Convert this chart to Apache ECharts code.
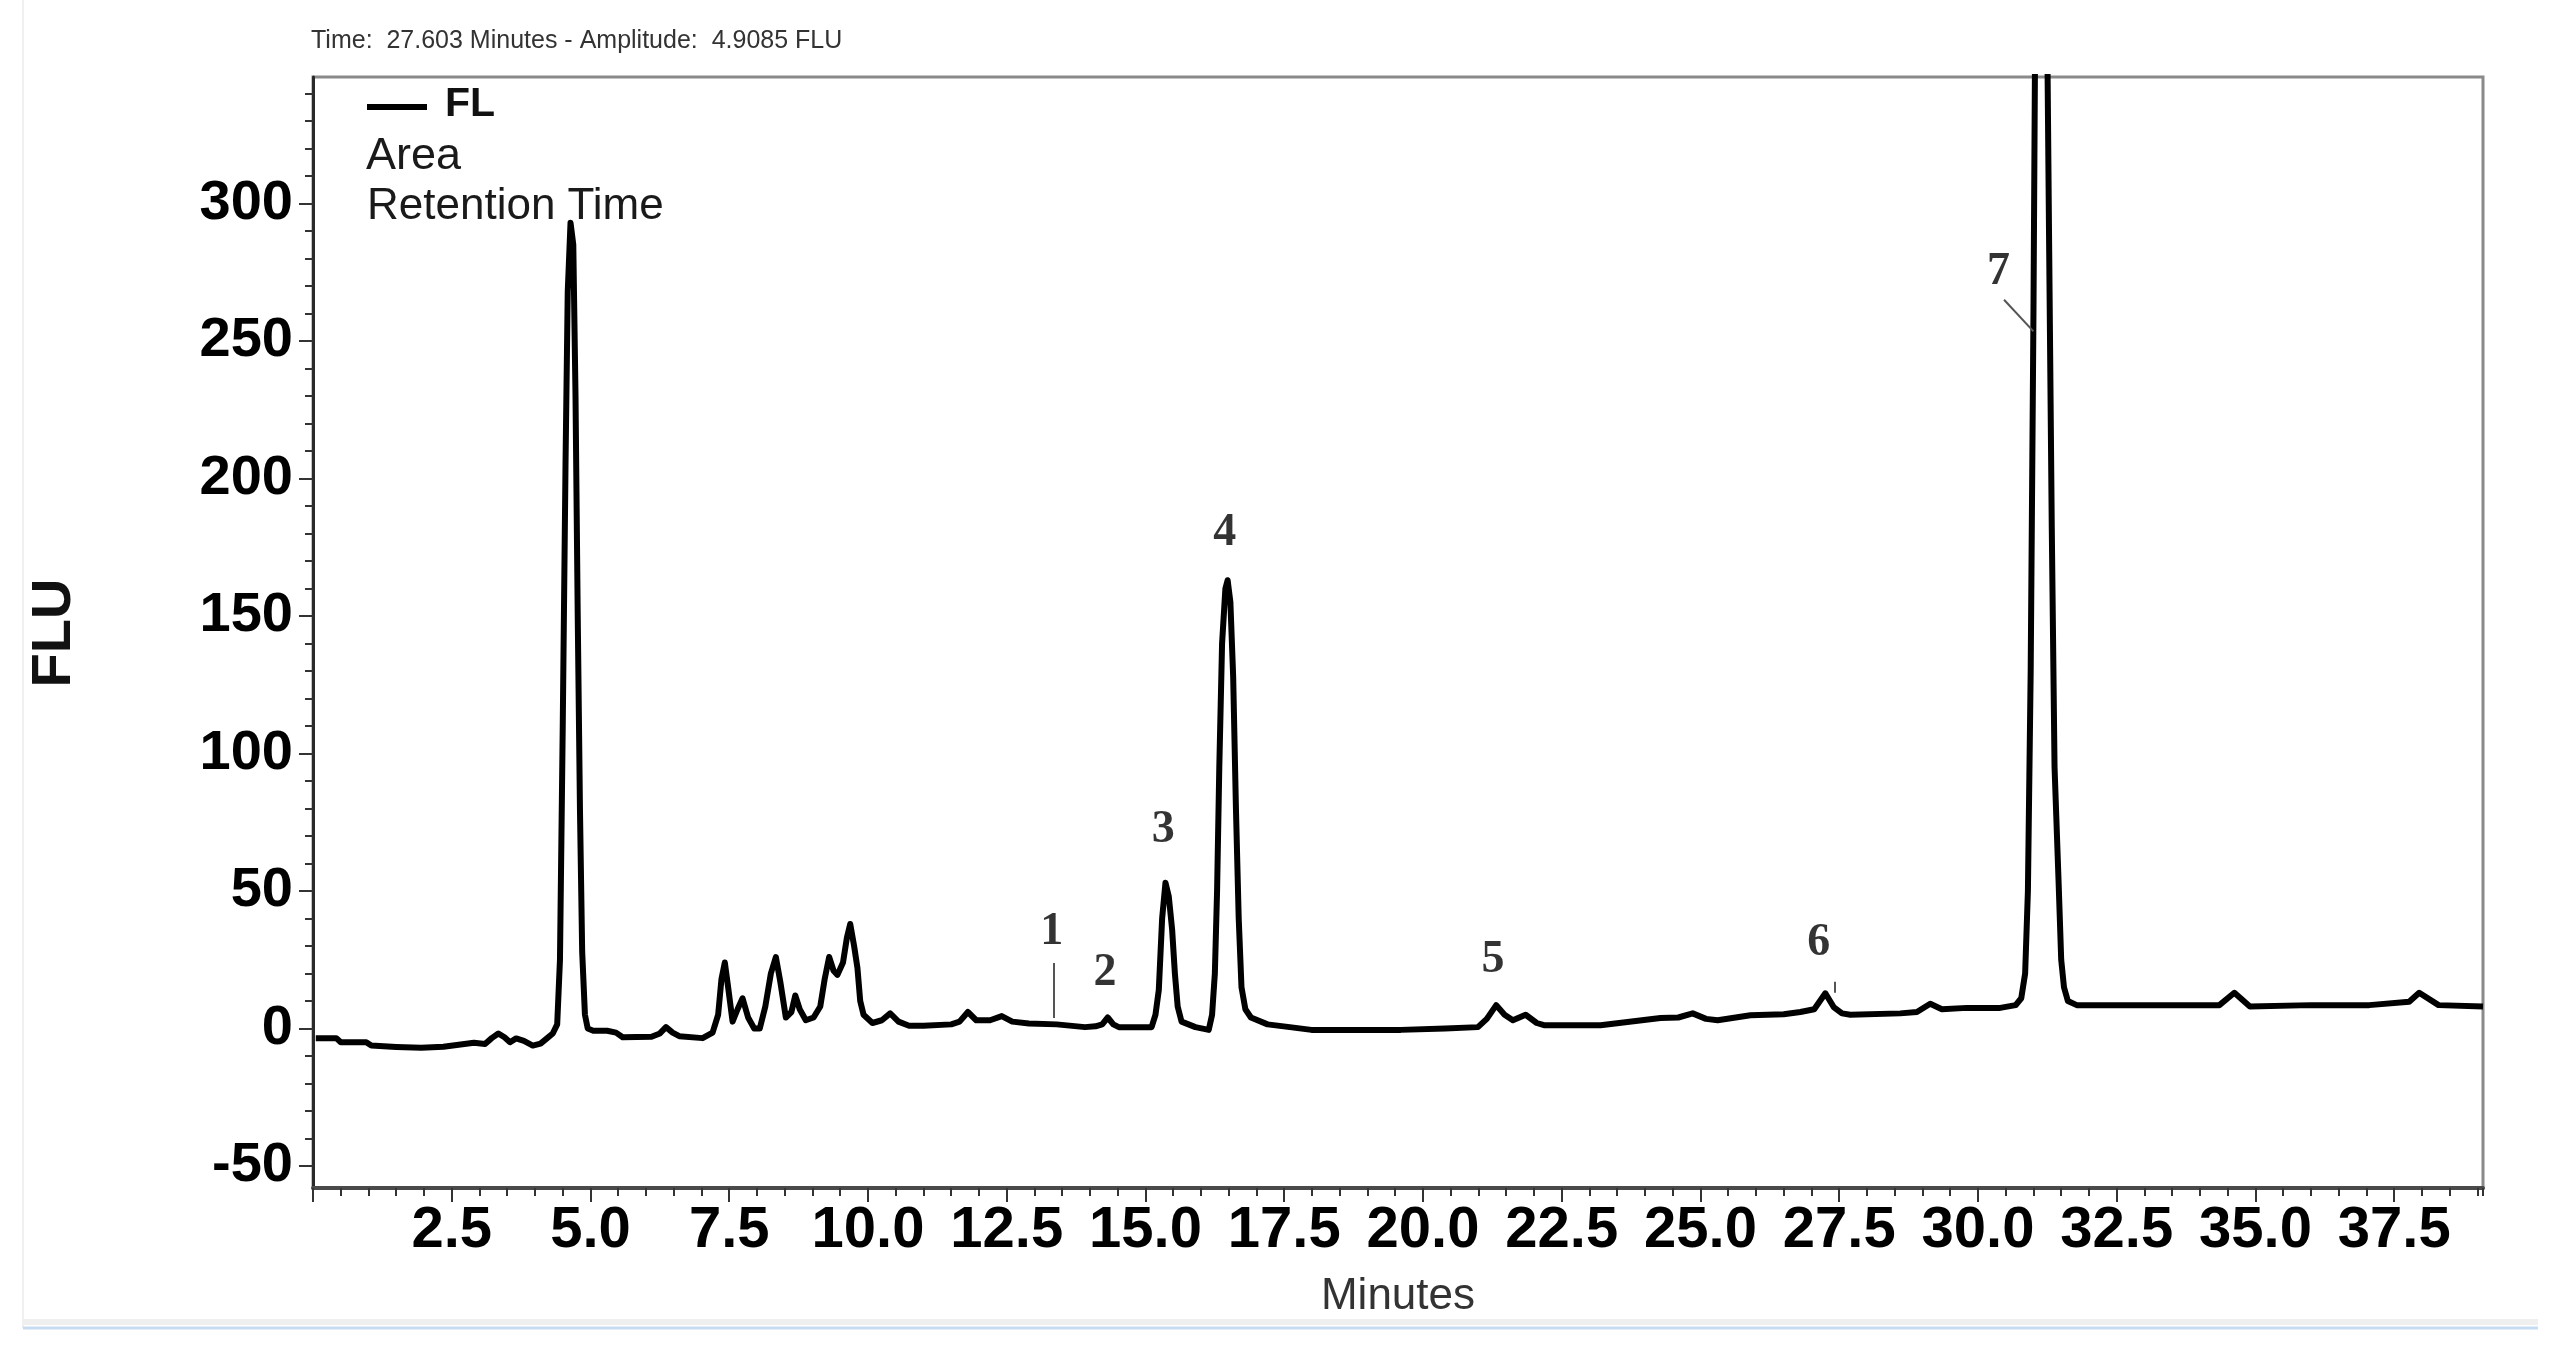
<!DOCTYPE html>
<html>
<head>
<meta charset="utf-8">
<title>FL chromatogram</title>
<script src="https://cdn.jsdelivr.net/npm/echarts@6/dist/echarts.min.js"></script>
<style>
  html, body { margin: 0; padding: 0; background: #fff; }
  #chart { width: 2558px; height: 1358px; }
</style>
</head>
<body>
<div id="chart"></div>
<script>
// retention time (min) and detector signal (FLU)
const timeMin = [
  0.05, 0.42, 0.5, 0.96, 1.05, 1.5, 1.95, 2.35, 2.9, 3.1, 3.22, 3.34, 3.45, 3.55, 3.66, 3.8, 3.96, 4.1, 4.22, 4.32,
  4.40, 4.45, 4.50, 4.55, 4.59, 4.64, 4.69, 4.73, 4.77, 4.81, 4.85, 4.90, 4.95, 5.05, 5.3, 5.46, 5.58, 6.1, 6.25, 6.36,
  6.48, 6.6, 7.02, 7.2, 7.3, 7.36, 7.42, 7.48, 7.56, 7.65, 7.74, 7.84, 7.95, 8.05, 8.15, 8.25, 8.34, 8.42, 8.52, 8.62,
  8.69, 8.77, 8.88, 9.02, 9.14, 9.22, 9.30, 9.38, 9.45, 9.55, 9.62, 9.68, 9.75, 9.81, 9.86, 9.92, 10.08, 10.25, 10.4, 10.55,
  10.74, 11.0, 11.5, 11.65, 11.8, 11.95, 12.2, 12.41, 12.6, 12.9, 13.4, 13.91, 14.1, 14.22, 14.32, 14.42, 14.52, 15.11, 15.18, 15.24,
  15.30, 15.36, 15.42, 15.48, 15.53, 15.58, 15.65, 15.9, 16.14, 16.2, 16.25, 16.29, 16.33, 16.38, 16.44, 16.48, 16.53, 16.58, 16.63, 16.68,
  16.73, 16.8, 16.9, 17.2, 17.6, 17.99, 19.6, 20.4, 20.99, 21.15, 21.32, 21.47, 21.62, 21.85, 22.05, 22.18, 23.2, 24.28, 24.6, 24.86,
  25.1, 25.31, 25.9, 26.5, 26.8, 27.05, 27.25, 27.4, 27.55, 27.7, 28.6, 28.9, 29.14, 29.35, 29.8, 30.4, 30.68, 30.78, 30.85, 30.90,
  30.95, 31.00, 31.03, 31.08, 31.18, 31.24, 31.28, 31.33, 31.38, 31.45, 31.50, 31.55, 31.62, 31.78, 34.35, 34.62, 34.9, 36.0, 37.05, 37.77,
  37.95, 38.3, 39.1
]
const flu = [
  -3.5, -3.5, -5, -5, -6.2, -6.7, -7, -6.6, -5.2, -5.6, -3.5, -1.8, -3.2, -5, -3.6, -4.5, -6.2, -5.5, -3.5, -1.8,
  1.5, 25, 110, 205, 268, 293, 285, 230, 150, 80, 28, 5, 0, -0.8, -0.8, -1.5, -3.2, -3, -1.8, 0.5,
  -1.5, -2.8, -3.5, -1.5, 5, 18, 24, 15, 2.5, 7, 11, 4, 0, 0, 8, 20, 26, 17, 4, 6,
  12, 7, 3, 4, 8, 18, 26, 21, 19.5, 24, 33, 38, 30, 22, 10, 5, 2, 3, 5.5, 2.5,
  1, 1, 1.5, 2.5, 6, 3, 3, 4.5, 2.5, 1.8, 1.5, 0.5, 0.8, 1.5, 4, 1.5, 0.5, 0.5, 5, 14,
  40, 53, 48, 36, 20, 8, 2.5, 0.5, -0.5, 5, 20, 50, 95, 140, 160, 163, 155, 128, 80, 40,
  15, 7, 4, 1.5, 0.5, -0.5, -0.5, 0, 0.5, 3.5, 8.5, 5, 3, 5, 2, 1.2, 1.2, 3.8, 4, 5.5,
  3.5, 3, 4.8, 5.2, 6, 7, 12.8, 7.8, 5.5, 5, 5.5, 6, 9, 7, 7.5, 7.5, 8.5, 11, 20, 50,
  130, 260, 360, 420, 425, 380, 290, 182, 95, 55, 25, 15, 10, 8.5, 8.5, 13, 8, 8.5, 8.5, 9.7,
  13, 8.5, 8
]

// peak numbering written above the peaks
const peakNames = ['1', '2', '3', '4', '5', '6', '7']
const peakLabelTime = [13.31, 14.27, 15.32, 16.43, 21.26, 27.13, 30.37]
const peakLabelFlu = [35, 20, 72, 180, 25, 31, 275]

// thin leader lines (start / end in data units)
const leaderFrom = [[13.35, 23.8], [30.47, 265], [27.42, 17]]
const leaderTo = [[13.35, 3.8], [31.0, 253.5], [27.42, 13]]

const xTickLabels = [2.5, 5, 7.5, 10, 12.5, 15, 17.5, 20, 22.5, 25, 27.5, 30, 32.5, 35, 37.5]
const yTickLabels = [-50, 0, 50, 100, 150, 200, 250, 300]

// plot box
const X_MIN = 0, X_MAX = 39.1
const Y_MIN = -58, Y_MAX = 346
const PLOT = { left: 313, top: 77, width: 2170, height: 1111 }

function xPix(v) {
  return PLOT.left + (v - X_MIN) / (X_MAX - X_MIN) * PLOT.width
}
function yPix(v) {
  return PLOT.top + PLOT.height - (v - Y_MIN) / (Y_MAX - Y_MIN) * PLOT.height
}

const TICK_COLOR = '#333'
const hiddenAxis = (i) => ({ type: 'value', gridIndex: i, show: false, axisLine: { onZero: false } })

const chart = echarts.init(document.getElementById('chart'))

const option = {
  animation: false,
  backgroundColor: '#fff',
  grid: [
    // main plot
    { left: PLOT.left, top: PLOT.top, width: PLOT.width, height: PLOT.height, show: true,
      borderColor: '#8a8a8a', borderWidth: 3, backgroundColor: 'transparent', outerBoundsMode: 'none' },
    // long x ticks every 2.5 min
    { left: PLOT.left, top: PLOT.top, width: xPix(37.5) - PLOT.left, height: PLOT.height, outerBoundsMode: 'none' },
    // short y ticks every 10
    { left: PLOT.left, width: PLOT.width, top: yPix(340), height: yPix(-50) - yPix(340), outerBoundsMode: 'none' },
    // long y ticks and labels every 50
    { left: PLOT.left, width: PLOT.width, top: yPix(300), height: yPix(-50) - yPix(300), outerBoundsMode: 'none' }
  ],
  xAxis: [
    {
      type: 'value', gridIndex: 0, min: X_MIN, max: X_MAX, interval: 0.5,
      axisLine: { show: true, onZero: false, lineStyle: { color: '#4a4a4a', width: 4 } },
      axisTick: { show: true, inside: false, length: 8, lineStyle: { color: TICK_COLOR, width: 2 } },
      axisLabel: {
        show: true, margin: 14, color: '#000', fontSize: 58, fontWeight: 'bold',
        fontFamily: 'Liberation Sans, Arial, sans-serif',
        showMinLabel: true, showMaxLabel: true,
        formatter: (v) => xTickLabels.includes(v) ? v.toFixed(1) : ''
      },
      splitLine: { show: false }
    },
    {
      type: 'value', gridIndex: 1, min: 0, max: 37.5, interval: 2.5,
      axisLine: { show: false, onZero: false },
      axisTick: { show: true, length: 14, lineStyle: { color: TICK_COLOR, width: 2 } },
      axisLabel: { show: false },
      splitLine: { show: false }
    },
    hiddenAxis(2),
    hiddenAxis(3)
  ],
  yAxis: [
    {
      type: 'value', gridIndex: 0, min: Y_MIN, max: Y_MAX,
      axisLine: { show: true, onZero: false, lineStyle: { color: '#2a2a2a', width: 3 } },
      axisTick: { show: false },
      axisLabel: { show: false },
      splitLine: { show: false }
    },
    hiddenAxis(1),
    {
      type: 'value', gridIndex: 2, min: -50, max: 340, interval: 10,
      axisLine: { show: false, onZero: false },
      axisTick: { show: true, length: 8, lineStyle: { color: TICK_COLOR, width: 2 } },
      axisLabel: { show: false },
      splitLine: { show: false }
    },
    {
      type: 'value', gridIndex: 3, min: -50, max: 300, interval: 50,
      axisLine: { show: false, onZero: false },
      axisTick: { show: true, length: 14, lineStyle: { color: TICK_COLOR, width: 2 } },
      axisLabel: {
        show: true, margin: 20, color: '#000', fontSize: 56, fontWeight: 'bold',
        fontFamily: 'Liberation Sans, Arial, sans-serif',
        formatter: (v) => yTickLabels.includes(v) ? String(v) : ''
      },
      splitLine: { show: false }
    }
  ],
  series: [
    {
      name: 'FL',
      type: 'line',
      xAxisIndex: 0,
      yAxisIndex: 0,
      data: timeMin.map((t, i) => [t, flu[i]]),
      showSymbol: false,
      symbol: 'none',
      smooth: false,
      clip: true,
      z: 3,
      lineStyle: { color: '#000', width: 6, join: 'round' },
      markLine: {
        silent: true,
        symbol: ['none', 'none'],
        label: { show: false },
        lineStyle: { color: '#555', width: 2, type: 'solid' },
        data: leaderFrom.map((p, i) => [{ coord: p }, { coord: leaderTo[i] }])
      }
    },
    {
      name: 'peaks',
      type: 'scatter',
      xAxisIndex: 0,
      yAxisIndex: 0,
      symbolSize: 1,
      itemStyle: { color: 'rgba(0,0,0,0)' },
      z: 4,
      label: {
        show: true,
        position: 'inside',
        formatter: (p) => p.name,
        color: '#000',
        fontSize: 46,
        fontWeight: 'bold',
        fontFamily: 'Liberation Serif, Times New Roman, serif'
      },
      data: peakNames.map((n, i) => ({ name: n, value: [peakLabelTime[i], peakLabelFlu[i]] }))
    }
  ],
  graphic: [
    // window edges of the original screenshot
    { type: 'line', silent: true, shape: { x1: 23, y1: 0, x2: 23, y2: 1328 }, style: { stroke: '#f0f0f0', lineWidth: 2 } },
    { type: 'line', silent: true, shape: { x1: 23, y1: 1322, x2: 2538, y2: 1322 }, style: { stroke: '#efefef', lineWidth: 6 } },
    { type: 'line', silent: true, shape: { x1: 23, y1: 1328, x2: 2538, y2: 1328 }, style: { stroke: '#c6dcf2', lineWidth: 3 } },
    {
      type: 'text', x: 311, y: 41,
      style: { text: 'Time:  27.603 Minutes - Amplitude:  4.9085 FLU', fill: '#333', fontSize: 25,
        fontFamily: 'Liberation Sans, Arial, sans-serif', align: 'left', verticalAlign: 'middle' }
    },
    // legend
    { type: 'line', z: 10, shape: { x1: 367, y1: 107, x2: 427, y2: 107 }, style: { stroke: '#000', lineWidth: 6 } },
    {
      type: 'text', x: 445, y: 105, z: 10,
      style: { text: 'FL', fill: '#111', fontSize: 41, fontWeight: 'bold',
        fontFamily: 'Liberation Sans, Arial, sans-serif', align: 'left', verticalAlign: 'middle' }
    },
    {
      type: 'text', x: 366, y: 157, z: 10,
      style: { text: 'Area', fill: '#1a1a1a', fontSize: 45,
        fontFamily: 'Liberation Sans, Arial, sans-serif', align: 'left', verticalAlign: 'middle' }
    },
    {
      type: 'text', x: 367, y: 207, z: 10,
      style: { text: 'Retention Time', fill: '#1a1a1a', fontSize: 44,
        fontFamily: 'Liberation Sans, Arial, sans-serif', align: 'left', verticalAlign: 'middle' }
    },
    // axis titles
    {
      type: 'text', x: 1398, y: 1297,
      style: { text: 'Minutes', fill: '#333', fontSize: 44,
        fontFamily: 'Liberation Sans, Arial, sans-serif', align: 'center', verticalAlign: 'middle' }
    },
    {
      type: 'text', x: 55, y: 633, rotation: Math.PI / 2,
      style: { text: 'FLU', fill: '#111', fontSize: 56, fontWeight: 'bold',
        fontFamily: 'Liberation Sans, Arial, sans-serif', align: 'center', verticalAlign: 'middle' }
    }
  ]
}

chart.setOption(option)
</script>
</body>
</html>
